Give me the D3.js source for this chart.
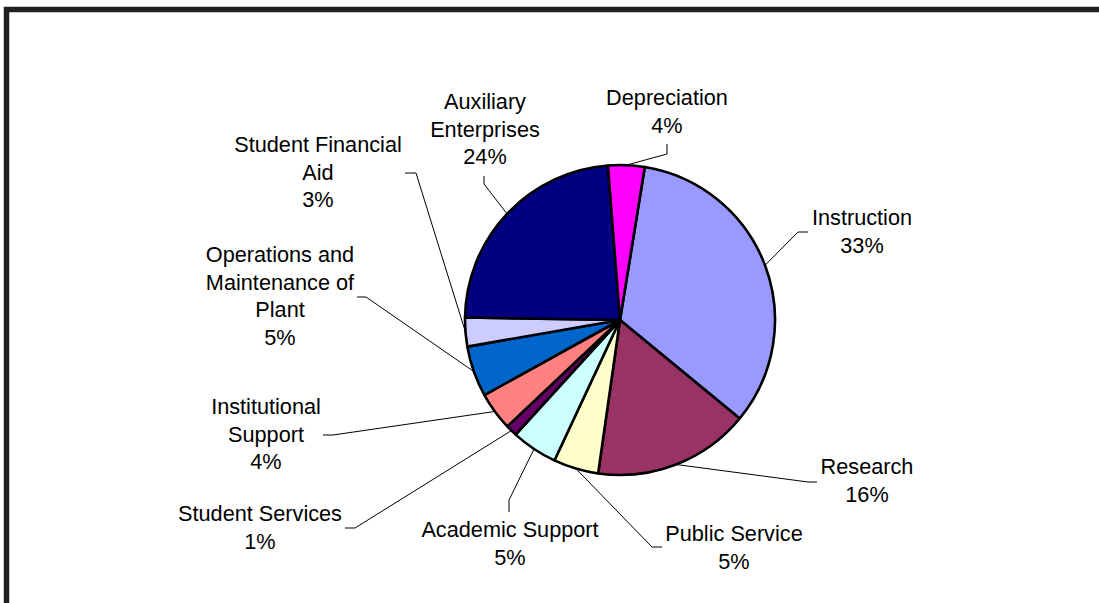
<!DOCTYPE html>
<html>
<head>
<meta charset="utf-8">
<script src="https://cdn.jsdelivr.net/npm/d3@7"></script>
<style>
  html, body { margin: 0; padding: 0; background: #fff; }
  svg { display: block; }
</style>
</head>
<body>
<svg id="chart" width="1099" height="603"></svg>
<script>
// ---- data ----
const categories = ["Instruction", "Research", "Public Service", "Academic Support", "Student Services",
  "Institutional Support", "Operations and Maintenance of Plant", "Student Financial Aid",
  "Auxiliary Enterprises", "Depreciation"];
const values = [33.4, 16.3, 4.7, 4.8, 1.2, 4.0, 5.3, 3.0, 23.5, 3.8];
const labelLines = [
  ["Instruction"], ["Research"], ["Public Service"], ["Academic Support"], ["Student Services"],
  ["Institutional", "Support"], ["Operations and", "Maintenance of", "Plant"], ["Student Financial", "Aid"],
  ["Auxiliary", "Enterprises"], ["Depreciation"]
];
const colors = ["#9999FF", "#993366", "#FFFFCC", "#CCFFFF", "#660066", "#FF8080", "#0066CC", "#CCCCFF", "#000080", "#FF00FF"];

// ---- label layout (text center x, first baseline y, leader start, elbow) ----
const labelLayout = [
  { tx: 862, ty: 225, sx: 808, sy: 232, ex: 798, ey: 232 },
  { tx: 867, ty: 474, sx: 817, sy: 482, ex: 808, ey: 482 },
  { tx: 734, ty: 541, sx: 662, sy: 547, ex: 652, ey: 547 },
  { tx: 510, ty: 537, sx: 509, sy: 512, ex: 509, ey: 500 },
  { tx: 260, ty: 521, sx: 345, sy: 528, ex: 355, ey: 528 },
  { tx: 266, ty: 414, sx: 323, sy: 435, ex: 333, ey: 435 },
  { tx: 280, ty: 262, sx: 357, sy: 297, ex: 366, ey: 297 },
  { tx: 318, ty: 152, sx: 405, sy: 173, ex: 416, ey: 173 },
  { tx: 485, ty: 109, sx: 484, sy: 176, ex: 484, ey: 184 },
  { tx: 667, ty: 105, sx: 667, sy: 144, ex: 667, ey: 154 }
];

const data = categories.map((c, i) => ({ name: c, v: values[i], lines: labelLines[i], color: colors[i], lay: labelLayout[i] }));

const svg = d3.select("#chart");
const cx = 620, cy = 320, R = 155;
const rad = d => d * Math.PI / 180;
const total = d3.sum(values);

// frame
svg.append("rect")
  .attr("x", 6.5).attr("y", 9.5).attr("width", 1200).attr("height", 700)
  .attr("fill", "#fff").attr("stroke", "#231f20").attr("stroke-width", 5.5);

const pie = d3.pie().sort(null).value(d => d.v).startAngle(rad(9.2)).endAngle(rad(369.2));
const arcs = pie(data);
const arc = d3.arc().innerRadius(0).outerRadius(R);

const g = svg.append("g").attr("transform", `translate(${cx},${cy})`);
g.selectAll("path.slice").data(arcs).join("path")
  .attr("class", "slice")
  .attr("d", arc)
  .attr("fill", d => d.data.color)
  .attr("stroke", "#000")
  .attr("stroke-width", 2.6)
  .attr("stroke-linejoin", "round");

// leader lines
const lineGen = d3.line();
svg.append("g").selectAll("path.leader").data(arcs).join("path")
  .attr("class", "leader")
  .attr("d", d => {
    const a = (d.startAngle + d.endAngle) / 2;
    const px = cx + R * Math.sin(a), py = cy - R * Math.cos(a);
    const L = d.data.lay;
    return lineGen([[L.sx, L.sy], [L.ex, L.ey], [px, py]]);
  })
  .attr("fill", "none").attr("stroke", "#000").attr("stroke-width", 1);

// labels
const lh = 27.6;
const lab = svg.append("g")
  .attr("font-family", "'Liberation Sans', Arial, Helvetica, sans-serif")
  .attr("font-size", "21.7px")
  .attr("fill", "#000")
  .attr("text-anchor", "middle");
lab.selectAll("text").data(arcs).join("text")
  .attr("x", d => d.data.lay.tx)
  .attr("y", d => d.data.lay.ty)
  .each(function(d) {
    const t = d3.select(this);
    const lines = d.data.lines.concat([Math.round(d.data.v / total * 100) + "%"]);
    lines.forEach((s, i) => {
      t.append("tspan").attr("x", d.data.lay.tx).attr("y", d.data.lay.ty + i * lh).text(s);
    });
  });
</script>
</body>
</html>
